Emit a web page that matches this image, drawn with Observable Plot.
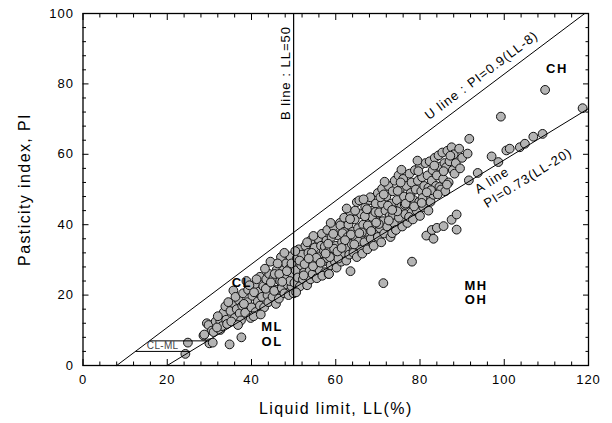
<!DOCTYPE html>
<html><head><meta charset="utf-8">
<script src="https://cdn.jsdelivr.net/npm/d3@7"></script>
<script src="https://cdn.jsdelivr.net/npm/@observablehq/plot@0.6"></script>
<style>
html,body{margin:0;padding:0;background:#fff;}
#chart svg{font-family:"Liberation Sans",Arial,Helvetica,sans-serif;}
#chart svg text{letter-spacing:1px;}
</style></head><body><div id="chart"></div>
<script>
// Tick values
const xMajor = [0,20,40,60,80,100,120];
const yMajor = [0,20,40,60,80,100];
const xMinor = [4,8,12,16,24,28,32,36,44,48,52,56,64,68,72,76,84,88,92,96,104,108,112,116];
const yMinor = [4,8,12,16,24,28,32,36,44,48,52,56,64,68,72,76,84,88,92,96];

// Soil samples [LL, PI]
const soils = [
 [24.3,3.3],[24.9,6.5],[28.6,8.5],[29.4,12],[30,6.3],[29.8,11.5],[30.6,9.9],[28.8,8.8],
 [31,9.5],[31.5,12.5],[32.6,12.5],[32.6,10.1],[33.4,15.1],[32,14],[33,11.2],[34,13],[33.8,16.8],[31.8,10.8],[34.2,11.8],[30.8,6.5],
 [34.8,6],[37.6,8],[35,15.5],[35.5,17.8],[35.7,21.3],[36,13.5],[36.5,16],[37,18.5],[37.2,14.8],[36.2,19.5],[35.2,12.5],[37.8,17],[38,20.5],[37.5,12.8],[34.5,18],[36.8,11.5],
 [38.5,15],[39,18],[39.2,21.5],[39.8,13.5],[40,16.5],[40.2,19.8],[40.8,23],[41,15.2],[41.5,18.2],[41.8,21],[38.8,24],[42,25.2],[40.5,14],[39.5,22.8],[42,17],[38.2,17.5],[40.6,20.8],[41.2,24.5],
 [42.5,19.5],[42.8,22.5],[43,16.5],[43.5,24.5],[43.8,20],[44,18],[44.2,26],[44.8,22],[45,19.5],[45.2,24.8],[45.8,17.5],[46,21.5],[46,27.2],[43.2,27.5],[44.5,29.5],[45.5,26],[42.2,14.5],[43.4,21.8],[44.6,23.6],[45.4,21.2],
 [46.5,19],[46.8,24],[47,30.8],[47.2,22],[47.5,27],[47.8,20.5],[48,25.2],[48.2,29],[48.5,23],[48.8,20],[49,27.5],[49.2,31],[49.5,22.5],[49.8,25.5],[49.5,29],[50,20.5],[46.2,29],[47.8,32],[46.6,26],[48.4,26.8],[49.1,24],[47.3,23.8],
 [50.2,23.5],[50.5,27],[50.8,30.5],[51,25],[51.2,33],[51.5,22.5],[51.8,28.5],[52,31.5],[52.2,24.5],[52.5,26.5],[52.8,34],[53,29],[53.2,22.8],[53.5,32],[53.8,27],[54,24.5],[54,35.5],[50.6,20.8],[53.2,35],[51.4,29.8],[52.6,28.8],[50.4,32.5],
 [54.5,26],[54.8,30],[55,33.5],[55.2,28],[55.5,24.8],[55.8,36],[56,31],[56.2,27],[56.5,34],[56.7,37.4],[57,29.5],[57.2,32.5],[57.5,26.5],[57.8,35.5],[58,30.5],[58,38.5],[54.3,32],[56.8,25.5],[55.4,30.6],[57.4,33.8],[54.7,36.8],
 [58.3,26],[58.5,33],[58.8,28.5],[59,36.5],[59.2,31],[59.5,39.5],[59.8,29.5],[60,34],[60.2,27.8],[60.5,37],[60.8,32],[61,40.5],[61.1,39.8],[61.3,29.5],[61.5,35],[61.8,31.5],[62,38],[62,42],[58.8,40.5],[59.6,33.2],[60.6,30.4],[61.6,37.6],[58.2,34.6],
 [62.3,33.5],[62.5,29.8],[62.8,36.5],[63,40],[63.2,31.5],[63.5,26.8],[63.5,43.5],[63.8,34.5],[64,38],[64.2,32],[64.5,41.5],[64.8,36],[65,46.4],[65,30.8],[65.3,39],[65.6,46.9],[65.8,33.5],[66,43],[66,37],[62.6,44.6],[63.6,37.2],[64.6,44],[65.4,35.2],
 [66.3,31.8],[66.5,40],[66.8,35],[67,45],[67.2,38],[67.5,33],[67.8,42],[68,47],[68.2,47.8],[68.3,36],[68.5,40],[68.8,44],[69,34],[69.2,38.5],[69.5,46],[69.8,41],[70,36.5],[70,49],[66.6,47.2],[67.6,39.8],[68.6,42.2],[69.4,43.6],[66.9,42.4],
 [70.3,43.5],[70.5,39],[70.8,35],[71,50.2],[71,46],[71.2,41],[71.5,37.5],[71.8,44],[72,48],[72.2,39.5],[72.5,51],[72.8,42.5],[73,36.5],[73.4,37.6],[73.2,46],[73.5,49.5],[73.8,40.5],[74,44],[74,52.5],[70.6,47.8],[71.6,52.2],[72.4,45.4],[73.6,42.8],
 [74.3,38.5],[74.5,47],[74.9,54],[75,42],[75.2,50],[75.5,45],[75.8,39.5],[76,53],[76.2,48],[76.5,43],[76.8,51],[77,40.5],[77.2,46],[77.5,54.5],[77.8,49],[78,43.5],[78,52],[74.7,49.6],[75.6,55.6],[76.4,45.6],[77.4,42.2],
 [78.3,41.5],[78.5,47],[78.8,55.5],[79,50],[79.2,44],[79.5,52.5],[79.8,46.5],[80,56.8],[80,42.5],[80.3,49.5],[80.5,53.5],[80.8,45],[81,51],[81.3,57.5],[81.5,47.5],[81.8,54],[82,44],[82,50.5],[79.4,58.2],[80.6,47.6],
 [82.3,58],[82.5,46.5],[82.8,52.5],[83,55.5],[83.2,48.5],[83.5,59],[83.8,51],[84,54],[84.4,59.7],[84.6,50.7],[84.8,56.5],[85,50],[85.3,60.5],[85.5,53],[85.8,57.5],[86,49.5],
 [86.2,56.3],[86.5,61],[86.8,52],[87,58],[87.5,62],[87.8,55.5],[88,60],[88.2,54.5],[88.5,57.5],[89.3,61.6],[89.5,56],[90,59],[91.3,60.2],[91.7,64.4],
 [52.4,25.6],[54.6,28.2],[56.4,29.2],[58.6,30.8],[60.4,32.4],[62.2,35.6],[64.4,34.4],[66.2,37.8],[68.4,38.2],[70.2,40.2],[72.6,41.2],[74.6,43.8],
 [76.6,46],[78.6,45.2],[80.4,46.2],[82.6,49.8],[84.2,48.6],[86.4,51.4],[53.6,30.4],[57.6,31.8],[61.4,33.4],[65.6,37.6],[69.6,40.6],[73.4,44.2],
 [77.6,47.8],[81.6,49.2],[85.6,55.2],[59.4,37.4],[63.4,41.6],[67.4,44.4],[71.4,48.6],[75.4,52],[79.6,55.2],[83.4,56.8],[87.2,59.6],
 [58.4,26],[71.3,23.4],[78.1,29.5],[81.5,36.9],[83.2,36],[82.8,38.5],[84,39.1],[85.6,39.6],[87.5,41.4],[88.7,42.9],[88.7,38.6],
 [91.6,52.6],[93.7,54.7],[97,59.4],[98.6,57.8],[100.5,61.1],[101.3,61.6],[103.7,62],[104.9,63],[106.9,65],[109.1,65.8],
 [99.2,70.7],[109.7,78.3],[118.6,73.1]
];

// Classification lines
const uLine = [{ll: 8, pi: 0}, {ll: 119.11, pi: 100}];   // PI = 0.9(LL-8)
const aLine = [{ll: 20, pi: 0}, {ll: 120, pi: 73}];      // PI = 0.73(LL-20)
const bLineLL = [50];
const clmlPI = [4, 7];
const clmlFrom = [12.44, 15.78];
const clmlTo = [25.48, 29.59];

// Text labels
const lineLabels = ["U line : PI=0.9(LL-8)", "A line", "PI=0.73(LL-20)", "B line : LL=50"];
const lineLabelLL = [94.6, 97.1, 105.6, 48.1];
const lineLabelPI = [82.4, 52.6, 53.3, 83.1];
const lineLabelAngle = [-37, -32, -32, -90];
const zoneNames = ["CH", "CL", "ML", "OL", "MH", "OH"];
const zoneLL = [112.5, 37.7, 44.9, 44.9, 93.3, 93.3];
const zonePI = [84.2, 23.5, 10.9, 6.6, 22.7, 18.7];

const idx = (a) => a.map((_, i) => i);

const chart = Plot.plot({
  width: 612, height: 423,
  marginLeft: 82.5, marginRight: 24, marginTop: 13, marginBottom: 58,
  style: {fontSize: "13px", color: "#000", background: "#fff"},
  x: {domain: [0, 120]},
  y: {domain: [0, 100]},
  marks: [
    Plot.dot(soils, {x: d => d[0], y: d => d[1], r: 4.4, fill: "#b4b4b4", stroke: "#111", strokeWidth: 1}),
    Plot.line(uLine, {x: "ll", y: "pi", stroke: "#000", strokeWidth: 1}),
    Plot.line(aLine, {x: "ll", y: "pi", stroke: "#000", strokeWidth: 1}),
    Plot.ruleX(bLineLL, {stroke: "#000", strokeWidth: 1.2}),
    Plot.link(idx(clmlPI), {x1: i => clmlFrom[i], x2: i => clmlTo[i], y1: i => clmlPI[i], y2: i => clmlPI[i], stroke: "#000", strokeWidth: 1}),
    Plot.text(idx(lineLabels), {x: i => lineLabelLL[i], y: i => lineLabelPI[i], text: i => lineLabels[i], rotate: i => lineLabelAngle[i], fontSize: 13, textAnchor: "middle", lineAnchor: "middle", fill: "#000"}),
    Plot.text(idx(zoneNames), {x: i => zoneLL[i], y: i => zonePI[i], text: i => zoneNames[i], fontSize: 13, fontWeight: "bold", textAnchor: "middle", lineAnchor: "middle", fill: "#000"}),
    Plot.text(["CL-ML"], {x: () => 18.9, y: () => 5.5, fontSize: 10, fill: "#444", textAnchor: "middle", lineAnchor: "middle"}),
    Plot.frame({stroke: "#000", strokeWidth: 1.3}),
    // tick labels
    Plot.axisX({anchor: "bottom", ticks: xMajor, tickSize: 0, tickPadding: 9, label: null, fontSize: 13}),
    Plot.axisY({anchor: "left", ticks: yMajor, tickSize: 0, tickPadding: 9, label: null, fontSize: 13}),
    // inward ticks, all four sides
    Plot.axisX({anchor: "bottom", ticks: xMajor, tickSize: -6, fill: "none", label: null}),
    Plot.axisX({anchor: "bottom", ticks: xMinor, tickSize: -3.5, fill: "none", label: null}),
    Plot.axisX({anchor: "top", ticks: xMajor, tickSize: -6, fill: "none", label: null}),
    Plot.axisX({anchor: "top", ticks: xMinor, tickSize: -3.5, fill: "none", label: null}),
    Plot.axisY({anchor: "left", ticks: yMajor, tickSize: -6, fill: "none", label: null}),
    Plot.axisY({anchor: "left", ticks: yMinor, tickSize: -3.5, fill: "none", label: null}),
    Plot.axisY({anchor: "right", ticks: yMajor, tickSize: -6, fill: "none", label: null}),
    Plot.axisY({anchor: "right", ticks: yMinor, tickSize: -3.5, fill: "none", label: null}),
    // axis titles
    Plot.text(["Liquid limit, LL(%)"], {frameAnchor: "bottom", dy: 43, fontSize: 16, textAnchor: "middle", lineAnchor: "middle", fill: "#000"}),
    Plot.text(["Pasticity index, PI"], {frameAnchor: "left", dx: -58, rotate: -90, fontSize: 16, textAnchor: "middle", lineAnchor: "middle", fill: "#000"})
  ]
});
document.getElementById("chart").appendChild(chart);
d3.select(chart).selectAll("text").filter(function() {
  const t = this.textContent;
  return t === "Liquid limit, LL(%)" || t === "Pasticity index, PI";
}).style("letter-spacing", "1.4px");
d3.select(chart).selectAll("text").filter(function() {
  return ["MH","OH","CH","CL","ML","OL"].includes(this.textContent);
}).style("letter-spacing", "1.5px");
d3.select(chart).selectAll("text").filter(function() {
  return this.textContent === "CL-ML";
}).style("letter-spacing", "0.3px");
</script></body></html>
